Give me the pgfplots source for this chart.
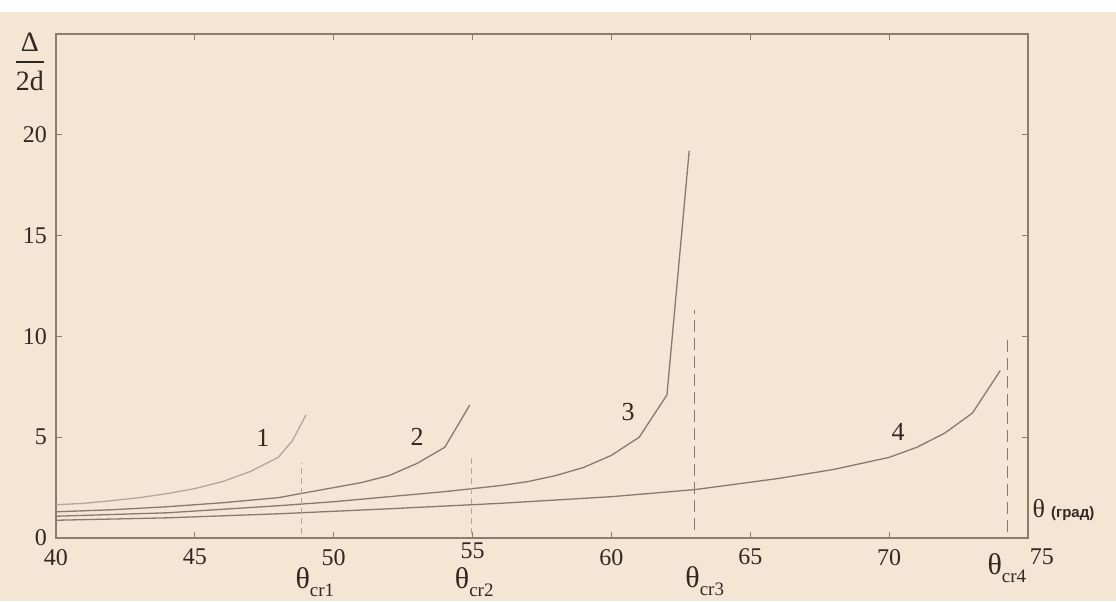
\documentclass[border=0pt]{standalone}
\usepackage{fontspec}
\setmainfont{Liberation Serif}
\newfontfamily\sansfont{Liberation Sans}
\usepackage{pgfplots}
\pgfplotsset{compat=1.18}
\usetikzlibrary{backgrounds}
\definecolor{paper}{RGB}{245,229,212}
\definecolor{axisline}{RGB}{140,124,108}
\definecolor{curve}{RGB}{135,121,107}
\definecolor{curvelight}{RGB}{180,166,152}
\definecolor{ink}{RGB}{50,40,34}

\begin{document}
\begin{tikzpicture}
\begin{axis}[
  at={(0,0)}, anchor=south west,
  scale only axis, width=486pt, height=252pt,
  xmin=40, xmax=75, ymin=0, ymax=25,
  xtick={40,45,...,75}, ytick={0,5,...,20},
  xticklabels={40,45,50,\raisebox{3pt}[\height][\depth]{55},60,65,70,\hspace*{14pt}75},
  tick align=inside, major tick length=3pt,
  axis line style={draw=axisline, line width=1pt},
  tick style={draw=axisline, line width=0.6pt},
  ticklabel style={font=\fontsize{12}{14}\selectfont, text=ink},
  xticklabel style={yshift=-2pt},
  yticklabel style={xshift=-1pt},
  /pgf/number format/assume math mode=true,
  clip=false,
]
% curve 1
\addplot[curvelight, line width=0.65pt] coordinates {
 (40,1.65) (41,1.72) (42,1.85) (43,2.0) (44,2.2) (45,2.45) (46,2.8)
 (47,3.3) (48,4.0) (48.5,4.8) (49,6.1)};
% curve 2
\addplot[curve, line width=0.65pt] coordinates {
 (40,1.3) (42,1.4) (44,1.55) (46,1.75) (48,2.0) (50,2.5) (51,2.75)
 (52,3.1) (53,3.7) (54,4.5) (54.9,6.6)};
% curve 3
\addplot[curve, line width=0.65pt] coordinates {
 (40,1.08) (44,1.25) (48,1.6) (50,1.8) (52,2.05) (54,2.3) (56,2.6)
 (57,2.8) (58,3.1) (59,3.5) (60,4.1) (61,5.0) (62,7.1) (62.8,19.2)};
% curve 4
\addplot[curve, line width=0.65pt] coordinates {
 (40,0.88) (44,1.0) (48,1.2) (52,1.45) (56,1.72) (60,2.05) (63,2.4)
 (66,2.95) (68,3.4) (70,4.0) (71,4.5) (72,5.2) (73,6.2) (74,8.3)};
% critical angles
\addplot[curvelight, line width=0.5pt, dash pattern=on 3pt off 2pt] coordinates {(48.85,0.2) (48.85,3.7)};
\addplot[curvelight, line width=0.5pt, dash pattern=on 3pt off 2pt] coordinates {(54.95,0.2) (54.95,4.1)};
\addplot[curve, line width=0.65pt, dash pattern=on 6pt off 3pt] coordinates {(63.0,0.4) (63.0,11.3)};
\addplot[curve, line width=0.65pt, dash pattern=on 6pt off 3pt] coordinates {(74.25,0.3) (74.25,10.1)};

\begin{scope}[every node/.style={text=ink, inner sep=0pt, font=\fontsize{13}{15}\selectfont}]
\node at (47.45,4.96) {1};
\node at (53.0,5.01) {2};
\node at (60.6,6.25) {3};
\node at (70.32,5.26) {4};
\node at (39.06,23.6) {$\displaystyle{\mbox{\fontsize{14}{14}\selectfont Δ}\above 1.3pt\mbox{\fontsize{14}{14}\selectfont 2d}}$};
\node[anchor=base west] at (48.61,-2.5) {\fontsize{15}{15}\selectfont θ\raisebox{-4pt}{\fontsize{9.5}{10}\selectfont cr1}};
\node[anchor=base west] at (54.35,-2.5) {\fontsize{15}{15}\selectfont θ\raisebox{-4pt}{\fontsize{9.5}{10}\selectfont cr2}};
\node[anchor=base west] at (62.65,-2.45) {\fontsize{15}{15}\selectfont θ\raisebox{-4pt}{\fontsize{9.5}{10}\selectfont cr3}};
\node[anchor=base west] at (73.53,-1.8) {\fontsize{15}{15}\selectfont θ\raisebox{-4pt}{\fontsize{9.5}{10}\selectfont cr4}};
\node[anchor=base west] at (75.15,1.04) {\fontsize{13}{13}\selectfont θ\hspace{3pt}{\sansfont\bfseries\fontsize{7.5}{8}\selectfont (град)}};
\end{scope}
\end{axis}
\begin{scope}[on background layer]
\fill[paper] (-28pt,-31.5pt) rectangle (530pt,263pt);
\fill[white] (-28pt,263pt) rectangle (530pt,269pt);
\end{scope}
\pgfresetboundingbox
\path (-28pt,-31.5pt) rectangle (530pt,269pt);
\end{tikzpicture}
\end{document}
